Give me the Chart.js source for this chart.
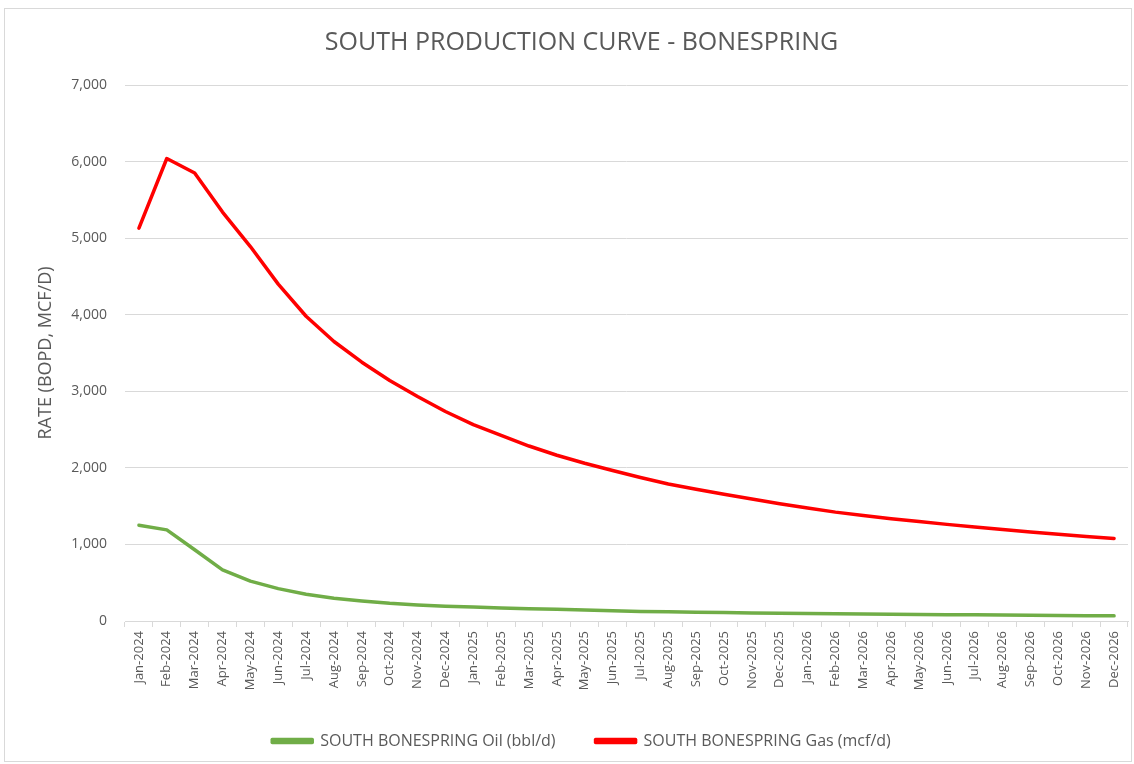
<!DOCTYPE html>
<html>
<head>
<meta charset="utf-8">
<script src="https://cdn.jsdelivr.net/npm/chart.js@4.4.1/dist/chart.umd.min.js"></script>
<style>
  html, body { margin: 0; padding: 0; background: #fff; }
  #wrap { position: absolute; left: 4px; top: 8px; width: 1128px; height: 754px; border: 1px solid #d9d9d9; box-sizing: border-box; }
  #c { position: absolute; left: 0; top: 0; }
</style>
</head>
<body>
<div id="wrap"></div>
<canvas id="c" width="1134" height="764"></canvas>
<script>
const categories = [
  'Jan-2024','Feb-2024','Mar-2024','Apr-2024','May-2024','Jun-2024','Jul-2024','Aug-2024','Sep-2024','Oct-2024','Nov-2024','Dec-2024',
  'Jan-2025','Feb-2025','Mar-2025','Apr-2025','May-2025','Jun-2025','Jul-2025','Aug-2025','Sep-2025','Oct-2025','Nov-2025','Dec-2025',
  'Jan-2026','Feb-2026','Mar-2026','Apr-2026','May-2026','Jun-2026','Jul-2026','Aug-2026','Sep-2026','Oct-2026','Nov-2026','Dec-2026'
];
const oilValues = [
  1250, 1190, 930, 667, 520, 423, 349, 297, 262, 231, 209, 192,
  183, 170, 161, 153, 144, 135, 125, 120, 115, 110, 106, 102,
  98, 95, 92, 89, 86, 83, 80, 77, 74, 72, 70, 67
];
const gasValues = [
  5130, 6040, 5850, 5340, 4890, 4400, 3980, 3650, 3380, 3140, 2932, 2736,
  2565, 2425, 2285, 2165, 2060, 1965, 1875, 1790, 1720, 1655, 1592, 1530,
  1475, 1422, 1378, 1336, 1298, 1262, 1228, 1195, 1162, 1132, 1104, 1078
];
const yTicks = [0, 1000, 2000, 3000, 4000, 5000, 6000, 7000];
const chartTitle = 'SOUTH PRODUCTION CURVE - BONESPRING';
const yAxisTitle = 'RATE (BOPD, MCF/D)';
const seriesNames = ['SOUTH BONESPRING Oil (bbl/d)', 'SOUTH BONESPRING Gas (mcf/d)'];

const FONT = '"Open Sans", "Noto Sans", sans-serif';
const GREY = '#595959';

new Chart(document.getElementById('c'), {
  type: 'line',
  data: {
    labels: categories,
    datasets: [
      { label: seriesNames[0], data: oilValues, borderColor: '#70AD47', backgroundColor: '#70AD47',
        borderWidth: 3.5, pointRadius: 0, tension: 0, borderCapStyle: 'round', borderJoinStyle: 'round' },
      { label: seriesNames[1], data: gasValues, borderColor: '#FF0000', backgroundColor: '#FF0000',
        borderWidth: 3.5, pointRadius: 0, tension: 0, borderCapStyle: 'round', borderJoinStyle: 'round' }
    ]
  },
  options: {
    responsive: false,
    animation: false,
    layout: { padding: { left: 35, right: 6, top: 12, bottom: 5 } },
    plugins: {
      title: { display: true, text: chartTitle, color: GREY, font: { family: FONT, size: 25, weight: 'normal' },
        padding: { top: 16, bottom: 27 } },
      legend: { position: 'bottom', labels: { color: GREY, font: { family: FONT, size: 16 }, boxWidth: 40, boxHeight: 3, padding: 40 } },
      tooltip: { enabled: false }
    },
    scales: {
      x: {
        offset: true,
        afterFit: (axis) => { axis.height = 72; },
        grid: { display: true, drawOnChartArea: false, drawTicks: true, tickLength: 6, color: '#d9d9d9', offset: true },
        border: { display: true, color: '#d9d9d9' },
        ticks: { color: GREY, font: { family: FONT, size: 13 }, minRotation: 90, maxRotation: 90, autoSkip: false, padding: 4 }
      },
      y: {
        min: 0, max: 7000,
        afterBuildTicks: (axis) => { axis.ticks = yTicks.map(v => ({ value: v })); },
        afterFit: (axis) => { axis.width = 90; },
        grid: { color: '#d9d9d9', drawTicks: false },
        border: { display: false },
        ticks: { color: GREY, font: { family: FONT, size: 14 }, padding: 18,
          callback: (v) => v.toLocaleString('en-US') },
        title: { display: true, text: yAxisTitle, color: GREY, font: { family: FONT, size: 18 }, padding: 0 }
      }
    }
  }
});
</script>
</body>
</html>
